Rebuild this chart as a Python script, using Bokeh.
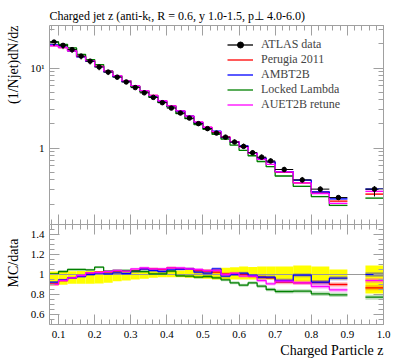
import numpy as np
from bokeh.plotting import figure
from bokeh.layouts import column
from bokeh.models import (Range1d, FixedTicker, LinearAxis, LogAxis, Title,
                          Legend, LegendItem, CustomJSTickFormatter)
from bokeh.embed import file_html
from bokeh.resources import INLINE

# ---------------- data ----------------
bin_lo = [0.075, 0.100, 0.125, 0.150, 0.175, 0.200, 0.225, 0.250, 0.275, 0.300,
          0.325, 0.350, 0.375, 0.400, 0.425, 0.450, 0.475, 0.500, 0.525, 0.550,
          0.575, 0.600, 0.625, 0.650, 0.675, 0.700, 0.750, 0.800, 0.850, 0.950]
bin_hi = [0.100, 0.125, 0.150, 0.175, 0.200, 0.225, 0.250, 0.275, 0.300, 0.325,
          0.350, 0.375, 0.400, 0.425, 0.450, 0.475, 0.500, 0.525, 0.550, 0.575,
          0.600, 0.625, 0.650, 0.675, 0.700, 0.750, 0.800, 0.850, 0.900, 1.000]

data_vals = [21.1, 19.2, 17.0, 14.1, 12.2, 10.3, 8.9, 7.7, 6.7, 5.7,
             4.9, 4.3, 3.69, 3.16, 2.74, 2.37, 2.02, 1.75, 1.54, 1.37,
             1.19, 1.05, 0.875, 0.77, 0.69, 0.54, 0.40, 0.307, 0.241, 0.307]

# relative data uncertainty (upper / lower)
err_up = [0.030, 0.033, 0.033, 0.035, 0.035, 0.035, 0.035, 0.035, 0.035, 0.035,
          0.035, 0.035, 0.035, 0.040, 0.040, 0.045, 0.050, 0.050, 0.057, 0.067,
          0.073, 0.080, 0.075, 0.080, 0.080, 0.080, 0.090, 0.080, 0.050, 0.090]
err_dn = [0.110, 0.103, 0.093, 0.093, 0.093, 0.090, 0.083, 0.067, 0.060, 0.050,
          0.043, 0.033, 0.027, 0.027, 0.027, 0.033, 0.037, 0.043, 0.050, 0.050,
          0.050, 0.050, 0.050, 0.050, 0.050, 0.065, 0.070, 0.070, 0.050, 0.190]

# MC / data ratios
r_perugia = [0.907, 0.940, 0.967, 0.987, 1.013, 1.023, 1.027, 1.033, 1.033, 1.040,
             1.057, 1.057, 1.050, 1.067, 1.057, 1.057, 1.040, 1.033, 1.023, 1.007,
             1.007, 1.000, 0.983, 0.973, 0.967, 0.923, 0.917, 0.920, 0.900, 0.867]
r_ambt2b = [0.923, 0.947, 0.967, 0.980, 1.000, 1.013, 1.007, 1.017, 1.010, 1.030,
            1.057, 1.040, 1.030, 1.047, 1.053, 1.057, 1.023, 1.013, 1.057, 0.983,
            1.000, 1.013, 0.990, 0.973, 0.973, 0.940, 0.993, 0.923, 0.963, 1.000]
r_locked = [1.007, 1.030, 1.050, 1.050, 1.047, 1.073, 1.033, 1.040, 1.040, 1.033,
            1.030, 1.007, 1.007, 1.033, 0.987, 0.983, 0.973, 0.980, 0.967, 0.947,
            0.917, 0.893, 0.917, 0.883, 0.850, 0.830, 0.833, 0.807, 0.797, 0.773]
r_auet2b = [0.900, 0.940, 0.967, 0.990, 1.017, 1.020, 1.030, 1.040, 1.033, 1.057,
            1.067, 1.057, 1.057, 1.067, 1.067, 1.057, 1.050, 1.040, 1.040, 1.000,
            1.013, 0.983, 0.983, 0.940, 0.907, 0.933, 0.917, 0.880, 0.847, 0.940]
mc_err = [0.010, 0.010, 0.010, 0.010, 0.010, 0.010, 0.010, 0.010, 0.010, 0.010,
          0.012, 0.012, 0.012, 0.012, 0.012, 0.012, 0.015, 0.015, 0.015, 0.015,
          0.015, 0.015, 0.015, 0.018, 0.018, 0.020, 0.020, 0.022, 0.022, 0.025]

mc_names = ["Perugia 2011", "AMBT2B", "Locked Lambda", "AUET2B retune"]
mc_ratios = [r_perugia, r_ambt2b, r_locked, r_auet2b]
mc_colors = ["#ff0000", "#0000ff", "#008000", "#ff00ff"]

x_major = [0.1, 0.2, 0.3, 0.4, 0.5, 0.6, 0.7, 0.8, 0.9, 1.0]
x_labels = ["0.1", "0.2", "0.3", "0.4", "0.5", "0.6", "0.7", "0.8", "0.9", "1.0"]
ratio_major = [0.6, 0.8, 1.0, 1.2, 1.4]
ratio_labels = ["0.6", "0.8", "1", "1.2", "1.4"]

FONT = "Liberation Serif"
AXC = "#a0a0a0"

x_minor = [round(v, 2) for v in np.arange(0.08, 1.001, 0.02)]
logy_minor = [0.2, 0.3, 0.4, 0.5, 0.6, 0.7, 0.8, 0.9, 2, 3, 4, 5, 6, 7, 8, 9, 20, 30]
ratio_minor = [round(v, 2) for v in np.arange(0.5, 1.501, 0.05)]


def steps(vals):
    xs, ys = [], []
    for i, (lo, hi, v) in enumerate(zip(bin_lo, bin_hi, vals)):
        if i > 0 and abs(lo - bin_hi[i - 1]) > 1e-9:
            xs.append(float("nan"))
            ys.append(float("nan"))
        xs += [lo, hi]
        ys += [v, v]
    return xs, ys


def style_axis(ax, ticker, labels=None, show_labels=True):
    ax.ticker = ticker
    ax.axis_line_color = AXC
    ax.major_tick_line_color = AXC
    ax.minor_tick_line_color = AXC
    ax.major_tick_in = 10
    ax.major_tick_out = 0
    ax.minor_tick_in = 5
    ax.minor_tick_out = 0
    if show_labels:
        ax.major_label_text_font = FONT
        ax.major_label_text_font_size = "11px"
        ax.major_label_text_color = "black"
        if labels is not None:
            ax.major_label_overrides = labels
    else:
        ax.formatter = CustomJSTickFormatter(code="return ''")
        ax.major_label_text_font_size = "2px"
        ax.major_label_standoff = 0


def text_title(text, align, standoff, size="12px", offset=0, valign="bottom"):
    return Title(text=text, align=align, standoff=standoff, offset=offset,
                 vertical_align=valign, text_font=FONT,
                 text_font_size=size, text_font_style="normal", text_color="black")


LEFT, RIGHT = 49, 14

# ---------------- main panel ----------------
p1 = figure(frame_width=334, frame_height=199, x_range=Range1d(0.075, 1.0),
            y_range=Range1d(0.111, 34.0), y_axis_type="log",
            output_backend="svg", toolbar_location=None,
            min_border_left=LEFT, min_border_right=RIGHT, min_border_top=25,
            min_border_bottom=0)
p1.grid.visible = False
p1.outline_line_color = None

style_axis(p1.xaxis[0], FixedTicker(ticks=x_major, minor_ticks=x_minor), show_labels=False)
style_axis(p1.yaxis[0], FixedTicker(ticks=[1, 10], minor_ticks=logy_minor),
           labels={1: "1", 10: "10\u00b9"})
p1.yaxis[0].major_label_standoff = 5
ax_top = LinearAxis()
style_axis(ax_top, FixedTicker(ticks=x_major, minor_ticks=x_minor), show_labels=False)
p1.add_layout(ax_top, "above")
ax_r = LogAxis()
style_axis(ax_r, FixedTicker(ticks=[1, 10], minor_ticks=logy_minor), show_labels=False)
p1.add_layout(ax_r, "right")

legend_items = []
for name, rat, col in zip(mc_names, mc_ratios, mc_colors):
    vals = [d * r for d, r in zip(data_vals, rat)]
    p1.quad(left=bin_lo, right=bin_hi,
            bottom=[v * (1 - e) for v, e in zip(vals, mc_err)],
            top=[v * (1 + e) for v, e in zip(vals, mc_err)],
            fill_color=col, fill_alpha=0.25, line_color=None)
    xs, ys = steps(vals)
    rl = p1.line(xs, ys, line_color=col, line_width=1.3)
    legend_items.append(LegendItem(label=name, renderers=[rl]))

xc = [(a + b) / 2 for a, b in zip(bin_lo, bin_hi)]
p1.segment(x0=bin_lo, x1=bin_hi, y0=data_vals, y1=data_vals, line_color="black", line_width=1)
p1.segment(x0=xc, x1=xc, y0=[d * (1 - e) for d, e in zip(data_vals, err_dn)],
           y1=[d * (1 + e) for d, e in zip(data_vals, err_up)], line_color="black", line_width=1)
dsc = p1.scatter(xc, data_vals, size=4.5, color="black")

# legend-only line (lies outside the visible x range)
dl = p1.line([2.0, 3.0], [1.0, 1.0], line_color="black", line_width=1.3)
legend_items.insert(0, LegendItem(label="ATLAS data", renderers=[dl, dsc]))
leg = Legend(items=legend_items, location=(178, 112), glyph_width=26, glyph_height=15,
             label_height=15, label_standoff=8, spacing=0, padding=0, margin=0,
             border_line_color=None, background_fill_alpha=0,
             label_text_font=FONT, label_text_font_size="12px")
p1.add_layout(leg, "center")

p1.add_layout(text_title("Charged jet z (anti-k\u209c, R = 0.6, y 1.0-1.5, p\u22a5 4.0-6.0)",
                         "left", 5), "above")
p1.add_layout(text_title("(1/Njet)dN/dz", "right", 9, size="14px", valign="top"), "left")

# ---------------- ratio panel ----------------
p2 = figure(frame_width=334, frame_height=100, x_range=p1.x_range,
            y_range=Range1d(0.5, 1.5), output_backend="svg", toolbar_location=None,
            min_border_left=LEFT, min_border_right=RIGHT, min_border_top=0,
            min_border_bottom=34)
p2.grid.visible = False
p2.outline_line_color = None
style_axis(p2.xaxis[0], FixedTicker(ticks=x_major, minor_ticks=x_minor),
           labels=dict(zip(x_major, x_labels)))
p2.xaxis[0].major_label_standoff = 6
style_axis(p2.yaxis[0], FixedTicker(ticks=ratio_major, minor_ticks=ratio_minor),
           labels=dict(zip(ratio_major, ratio_labels)))
p2.yaxis[0].major_label_standoff = 5
ax2t = LinearAxis()
style_axis(ax2t, FixedTicker(ticks=x_major, minor_ticks=x_minor), show_labels=False)
p2.add_layout(ax2t, "above")
ax2r = LinearAxis()
style_axis(ax2r, FixedTicker(ticks=ratio_major, minor_ticks=ratio_minor), show_labels=False)
p2.add_layout(ax2r, "right")

p2.quad(left=bin_lo, right=bin_hi, bottom=[1 - e for e in err_dn], top=[1 + e for e in err_up],
        fill_color="#ffff00", line_color=None)
p2.line([0.075, 1.0], [1.0, 1.0], line_color="#999999", line_width=1)
for name, rat, col in zip(mc_names, mc_ratios, mc_colors):
    p2.quad(left=bin_lo, right=bin_hi,
            bottom=[r - e for r, e in zip(rat, mc_err)],
            top=[r + e for r, e in zip(rat, mc_err)],
            fill_color=col, fill_alpha=0.25, line_color=None)
    xs, ys = steps(rat)
    p2.line(xs, ys, line_color=col, line_width=1.3)

p2.add_layout(text_title("Charged Particle z", "right", 0, size="14px"), "below")
p2.add_layout(text_title("MC/data", "right", 9, size="14px", offset=14, valign="top"), "left")

layout = column(p1, p2, spacing=0)
open("out.html", "w").write(file_html(layout, INLINE))
